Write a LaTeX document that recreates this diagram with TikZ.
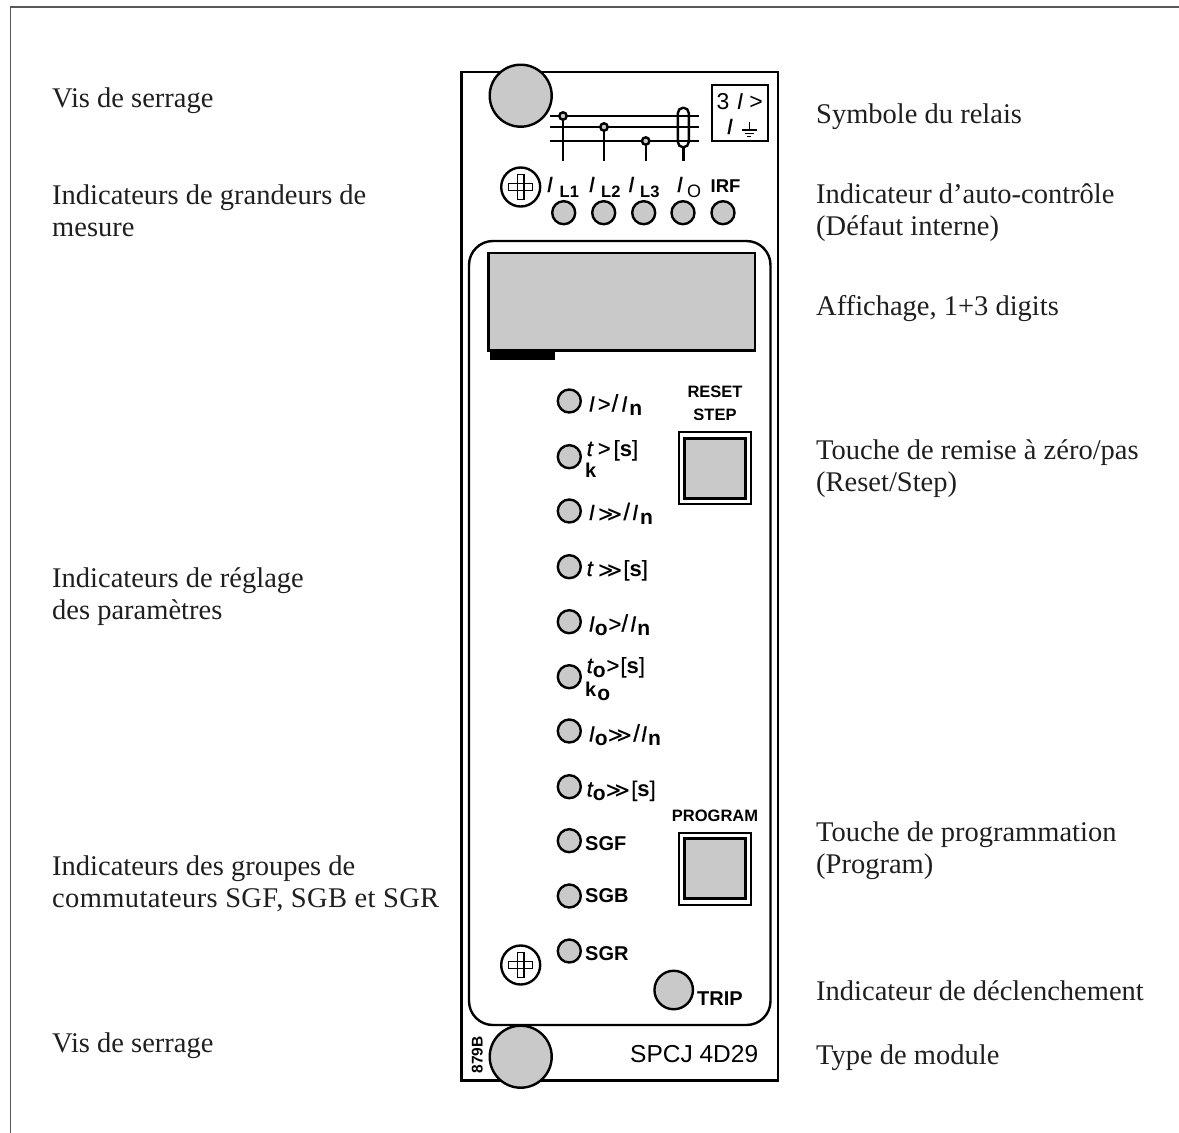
\documentclass[tikz,border=0pt]{standalone}
\usepackage{fontspec}
\setmainfont{Liberation Serif}
\setsansfont{Liberation Sans}
\newfontfamily\djv{DejaVu Sans}
\newfontfamily\med[FakeBold=0.5]{Liberation Sans}
\newcommand{\lbl}{\fontsize{28.5}{30}\selectfont\rmfamily}
\newcommand{\iI}{{\med\itshape I}}
\newcommand{\iT}{{\med\itshape t}}
\newcommand{\gt}{{\med >}}
\newcommand{\sla}{{\med\fontsize{24}{24}\selectfont /}}
\newcommand{\gtgt}{\scalebox{1.12}[0.85]{\fontsize{21}{21}\selectfont\djv\bfseries\symbol{"226B}}}
\newcommand{\brs}{{\med [}{\sffamily\bfseries s}{\med ]}}
\newcommand{\subb}[1]{\raisebox{-4pt}{\fontsize{21}{21}\selectfont\sffamily\bfseries #1}}
\definecolor{panelgray}{gray}{0.79}
\definecolor{framegray}{gray}{0.35}
\definecolor{txtdark}{gray}{0.12}
\tikzset{
  line/.style={draw=black,line width=2.4pt},
  grayfill/.style={line,fill=panelgray},
  led/.style={circle,grayfill,minimum size=23pt,inner sep=0pt,outer sep=0pt},
  knob/.style={circle,grayfill,minimum size=62pt,inner sep=0pt,outer sep=0pt},
  screw/.style={circle,line,fill=white,minimum size=39pt,inner sep=0pt,outer sep=0pt},
  desc/.style={anchor=base west,inner sep=0pt,font=\lbl,text=txtdark},
  tag/.style={anchor=base west,inner sep=0pt,font=\fontsize{20}{22}\selectfont\sffamily\bfseries},
  qty/.style={anchor=base west,inner sep=0pt,font=\fontsize{22}{22}\selectfont\sffamily},
  sym/.style={anchor=base west,inner sep=0pt,font=\fontsize{22}{22}\selectfont\med\itshape},
  sub/.style={anchor=base west,inner sep=0pt,font=\fontsize{16.5}{18}\selectfont\sffamily\bfseries},
  captxt/.style={anchor=base,inner sep=0pt,font=\fontsize{16.5}{18}\selectfont\sffamily\bfseries},
}
\begin{document}
\begin{tikzpicture}[x=1pt,y=-1pt]
\useasboundingbox (0,0) rectangle (1179,1133);
% frame
\coordinate (fa) at (10.7,1133);\coordinate (fb) at (10.7,7);\coordinate (fc) at (1179,7);
\draw[line width=1.1pt,draw=framegray] (fa)--(fb)--(fc);
% panel
\draw[line] (461.5,72) rectangle (778,1080.5);
\draw[line,rounded corners=24pt] (469,241) rectangle (770.5,1025);
\draw[grayfill] (488.5,253) rectangle (755,350.5);
\fill[black] (490,350) rectangle (555,360);
% knobs
\node[knob] (k1) at (520.7,95.7) {};
\node[knob] (k2) at (520.7,1056.7) {};
% current lines
\foreach \y in {116,127,141}{\draw[line] (550,\y)--(699,\y);}
\draw[line] (563,116)--(563,161); \draw[line,fill=panelgray] (563,116) circle (3.7);
\draw[line] (604,127)--(604,161); \draw[line,fill=panelgray] (604,127) circle (3.7);
\draw[line] (645.7,141)--(645.7,161); \draw[line,fill=panelgray] (645.7,141) circle (3.7);
\draw[line] (683.3,147)--(683.3,161);
\draw[line,rounded corners=5.4pt] (677.8,107.7) rectangle (688.8,147.3);
% symbol box
\draw[line] (712,85) rectangle (768,141);
\node[qty,font=\fontsize{23}{23}\selectfont\sffamily] (s1) at (716.5,109) {3\kern7.5pt{\itshape I}\kern6pt>};
\node[sym] (s2) at (726.5,134) {I};
\coordinate (g0) at (749.3,122);
\draw[line width=1.3pt] (g0)--(749.3,130);
\draw[line width=1.3pt] (742,130)--(757,130);
\draw[line width=1.2pt] (745,133.4)--(754,133.4);
\draw[line width=1.1pt] (747.3,136.4)--(751.3,136.4);
% screws
\foreach \n/\cy in {sc1/187,sc2/965}{
  \node[screw] (\n) at (520.7,\cy) {};
  \draw[line width=1.1pt] (508.6,\cy-3.3) rectangle (532.8,\cy+3.3);
  \draw[line width=1.1pt] (517.4,\cy-12.1) rectangle (524,\cy+12.1);
}
% top LEDs
\foreach \n/\x in {ta/563.7,tb/603.7,tc/643.7,td/683,te/723}{\node[led] (\n) at (\x,212.7) {};}
% top labels
\node[sym] (tl1) at (546.5,192) {I};
\node[sub] (tl2) at (559.5,197) {L1};
\node[sym] (tl3) at (588.5,192) {I};
\node[sub] (tl4) at (601,197) {L2};
\node[sym] (tl5) at (628,192) {I};
\node[sub] (tl6) at (640,197) {L3};
\node[sym] (tl7) at (676.5,192) {I};
\node[sub,font=\fontsize{18}{18}\selectfont\sffamily] (tl8) at (687,197) {O};
\node[tag,font=\fontsize{18.5}{18}\selectfont\sffamily\bfseries] (tl9) at (710.5,192.7) {IRF};
% side LEDs
\foreach \n/\y in {a/401,b/456.7,c/511,d/566.7,e/621.7,f/676.7,g/731,h/786.7,i/840.7,j/896,k/951}{\node[led] (l\n) at (569.3,\y) {};}
\node[led,minimum size=38.5pt] (trip) at (673.7,990) {};
% side labels
\node[qty] (ta1) at (588.5,411.5) {\iI\kern3pt\gt\kern1pt\sla\kern3pt\iI\kern2pt\subb{n}};
\node[qty] (tb1) at (586.5,456) {\iT\kern5pt\gt\kern3pt\brs};
\node[tag] (tb2) at (585,477) {k};
\node[qty] (tc1) at (588.5,520) {\iI\kern3pt\gtgt\kern1pt\sla\kern2pt\iI\kern2pt\subb{n}};
\node[qty] (td1) at (586.5,576) {\iT\kern5pt\gtgt\kern1pt\brs};
\node[qty] (te1) at (588.5,631.5) {\iI\subb{o}\kern1pt\gt\kern0pt\sla\kern2pt\iI\kern1pt\subb{n}};
\node[qty] (tf1) at (586.5,673) {\iT\subb{o}\kern1pt\gt\kern1pt\brs};
\node[tag] (tf2) at (585,696) {k\kern1pt\subb{o}};
\node[qty] (tg1) at (588.5,741.5) {\iI\subb{o}\kern0pt\gtgt\kern1pt\sla\kern1pt\iI\kern1pt\subb{n}};
\node[qty] (th1) at (586.5,796.5) {\iT\subb{o}\kern0pt\gtgt\kern1pt\brs};
\node[tag] (ti1) at (585,850) {SGF};
\node[tag] (tj1) at (585,902) {SGB};
\node[tag] (tk1) at (585,960) {SGR};
\node[tag] (tt1) at (697,1005) {TRIP};
% buttons
\foreach \n/\ty in {ba/432,bb/832.7}{
  \draw[line] (678.7,\ty) rectangle (751,\ty+72);
  \draw[grayfill,line width=3pt] (684.5,\ty+6) rectangle (745,\ty+66);
}
\node[captxt] (r1) at (715,397) {RESET};
\node[captxt] (r2) at (715,420) {STEP};
\node[captxt] (p1) at (715,821) {PROGRAM};
% bottom
\node[anchor=base west,inner sep=0pt,font=\fontsize{24.5}{25}\selectfont\sffamily] (mod) at (630,1062) {SPCJ 4D29};
\node[anchor=base west,inner sep=0pt,rotate=90,font=\fontsize{15.5}{16}\selectfont\sffamily\bfseries] (code) at (482.5,1073.5) {879B};
% descriptions left
\node[desc] (d1) at (52,107.5) {Vis de serrage};
\node[desc] (d2) at (52,204) {Indicateurs de grandeurs de};
\node[desc] (d3) at (52,236) {mesure};
\node[desc] (d4) at (52,587) {Indicateurs de réglage};
\node[desc] (d5) at (52,619) {des paramètres};
\node[desc] (d6) at (52,875) {Indicateurs des groupes de};
\node[desc,font=\lbl\addfontfeature{LetterSpace=1.3}] (d7) at (52,907) {commutateurs SGF, SGB et SGR};
\node[desc] (d8) at (52,1052) {Vis de serrage};
% right
\node[desc] (e1) at (816,123.5) {Symbole du relais};
\node[desc] (e2) at (816,203) {Indicateur d’auto-contrôle};
\node[desc] (e3) at (816,235) {(Défaut interne)};
\node[desc] (e4) at (816,315) {Affichage, 1+3 digits};
\node[desc] (e5) at (816,459) {Touche de remise à zéro/pas};
\node[desc] (e6) at (816,491) {(Reset/Step)};
\node[desc] (e7) at (816,841) {Touche de programmation};
\node[desc] (e8) at (816,873) {(Program)};
\node[desc] (e9) at (816,1000) {Indicateur de déclenchement};
\node[desc] (e10) at (816,1064) {Type de module};
\end{tikzpicture}
\end{document}
